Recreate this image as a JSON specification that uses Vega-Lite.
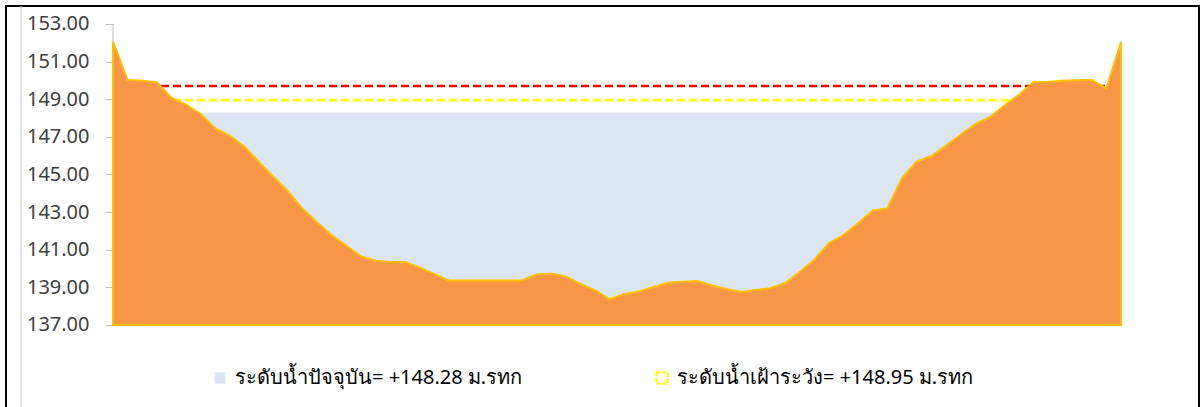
{
  "$schema": "https://vega.github.io/schema/vega-lite/v6.json",
  "autosize": {"type": "none"},
  "width": 1193,
  "height": 402,
  "padding": {"left": 6, "top": 6, "right": 2, "bottom": 0},
  "background": "#ffffff",
  "config": {
    "view": {"stroke": "#000000", "strokeWidth": 2},
    "font": "Noto Sans",
    "axisY": {
      "title": null, "offset": -107, "grid": false, "domain": false, "ticks": true, "tickSize": 8, "tickColor": "#bfbfbf",
      "labelFontSize": 20, "labelColor": "#404040", "labelPadding": 16, "labelFont": "Noto Sans", "format": ".2f"
    }
  },
  "datasets": {
    "terrain": [
      {"station": 0, "elev": 152.06}, {"station": 1, "elev": 150.02}, {"station": 2, "elev": 149.99},
      {"station": 3, "elev": 149.90}, {"station": 4, "elev": 149.07}, {"station": 5, "elev": 148.72},
      {"station": 6, "elev": 148.22}, {"station": 7, "elev": 147.45}, {"station": 8, "elev": 147.05},
      {"station": 9, "elev": 146.48}, {"station": 10, "elev": 145.65}, {"station": 11, "elev": 144.87},
      {"station": 12, "elev": 144.10}, {"station": 13, "elev": 143.15}, {"station": 14, "elev": 142.44},
      {"station": 15, "elev": 141.75}, {"station": 16, "elev": 141.20}, {"station": 17, "elev": 140.64},
      {"station": 18, "elev": 140.42}, {"station": 19, "elev": 140.35}, {"station": 20, "elev": 140.35},
      {"station": 21, "elev": 140.05}, {"station": 22, "elev": 139.70}, {"station": 23, "elev": 139.37},
      {"station": 24, "elev": 139.37}, {"station": 25, "elev": 139.37}, {"station": 26, "elev": 139.37},
      {"station": 27, "elev": 139.37}, {"station": 28, "elev": 139.37}, {"station": 29, "elev": 139.68},
      {"station": 30, "elev": 139.74}, {"station": 31, "elev": 139.57}, {"station": 32, "elev": 139.18},
      {"station": 33, "elev": 138.84}, {"station": 34, "elev": 138.36}, {"station": 35, "elev": 138.65},
      {"station": 36, "elev": 138.78}, {"station": 37, "elev": 139.02}, {"station": 38, "elev": 139.25},
      {"station": 39, "elev": 139.30}, {"station": 40, "elev": 139.34}, {"station": 41, "elev": 139.10},
      {"station": 42, "elev": 138.91}, {"station": 43, "elev": 138.75}, {"station": 44, "elev": 138.86},
      {"station": 45, "elev": 138.95}, {"station": 46, "elev": 139.22}, {"station": 47, "elev": 139.82},
      {"station": 48, "elev": 140.46}, {"station": 49, "elev": 141.34}, {"station": 50, "elev": 141.78},
      {"station": 51, "elev": 142.41}, {"station": 52, "elev": 143.08}, {"station": 53, "elev": 143.20},
      {"station": 54, "elev": 144.80}, {"station": 55, "elev": 145.68}, {"station": 56, "elev": 145.97},
      {"station": 57, "elev": 146.52}, {"station": 58, "elev": 147.10}, {"station": 59, "elev": 147.66},
      {"station": 60, "elev": 148.03}, {"station": 61, "elev": 148.67}, {"station": 62, "elev": 149.23},
      {"station": 63, "elev": 149.90}, {"station": 64, "elev": 149.93}, {"station": 65, "elev": 149.98},
      {"station": 66, "elev": 150.01}, {"station": 67, "elev": 150.02}, {"station": 68, "elev": 149.58},
      {"station": 69, "elev": 152.04}
    ],
    "levels": [
      {"kind": "current", "label": "ระดับน้ำปัจจุบัน= +148.28 ม.รทก", "level": 148.28},
      {"kind": "watch", "label": "ระดับน้ำเฝ้าระวัง= +148.95 ม.รทก", "level": 148.95},
      {"kind": "critical", "label": "critical", "level": 149.70}
    ]
  },
  "layer": [
    {
      "data": {"name": "levels"},
      "transform": [{"filter": "datum.kind === 'current'"}],
      "mark": {"type": "rule", "color": "#c8c8c8", "strokeWidth": 1},
      "encoding": {
        "x": {"datum": -6.3, "type": "quantitative", "scale": {"domain": [-7.3244, 74.3393], "nice": false, "zero": false}, "axis": null}
      }
    },
    {
      "data": {"name": "levels"},
      "transform": [{"filter": "datum.kind === 'current'"}],
      "mark": {"type": "rect"},
      "encoding": {
        "x": {"datum": 0, "type": "quantitative", "scale": {"domain": [-7.3244, 74.3393], "nice": false, "zero": false}, "axis": null},
        "x2": {"datum": 69},
        "y": {"field": "level", "type": "quantitative", "scale": {"domain": [132.588, 153.9568], "nice": false, "zero": false}, "axis": {"values": [137, 139, 141, 143, 145, 147, 149, 151, 153]}},
        "y2": {"datum": 137},
        "fill": {
          "field": "label", "type": "nominal",
          "scale": {"domain": ["ระดับน้ำปัจจุบัน= +148.28 ม.รทก"], "range": ["#dce6f2"]},
          "legend": {
            "title": null, "orient": "none", "legendX": 204, "legendY": 362,
            "symbolType": "square", "symbolSize": 120, "labelFontSize": 20, "labelColor": "#000000",
            "labelOffset": 5, "labelLimit": 600
          }
        }
      }
    },
    {
      "data": {"name": "levels"},
      "transform": [{"filter": "datum.kind === 'critical'"}],
      "mark": {"type": "rule", "color": "#ff0000", "strokeWidth": 2.5, "strokeDash": [8, 4]},
      "encoding": {
        "x": {"datum": 0, "type": "quantitative", "scale": {"domain": [-7.3244, 74.3393], "nice": false, "zero": false}, "axis": null},
        "x2": {"datum": 69},
        "y": {"field": "level", "type": "quantitative", "scale": {"domain": [132.588, 153.9568], "nice": false, "zero": false}, "axis": {"values": [137, 139, 141, 143, 145, 147, 149, 151, 153]}}
      }
    },
    {
      "data": {"name": "levels"},
      "transform": [{"filter": "datum.kind === 'watch'"}],
      "mark": {"type": "rule", "strokeWidth": 2.8, "strokeDash": [8, 4]},
      "encoding": {
        "x": {"datum": 0, "type": "quantitative", "scale": {"domain": [-7.3244, 74.3393], "nice": false, "zero": false}, "axis": null},
        "x2": {"datum": 69},
        "y": {"field": "level", "type": "quantitative", "scale": {"domain": [132.588, 153.9568], "nice": false, "zero": false}, "axis": {"values": [137, 139, 141, 143, 145, 147, 149, 151, 153]}},
        "stroke": {
          "field": "label", "type": "nominal",
          "scale": {"domain": ["ระดับน้ำเฝ้าระวัง= +148.95 ม.รทก"], "range": ["#ffff00"]},
          "legend": {
            "title": null, "orient": "none", "legendX": 646, "legendY": 362,
            "symbolType": "square", "symbolSize": 130, "symbolFillColor": "#ffffff", "symbolStrokeWidth": 2.2,
            "symbolDash": [4, 2], "labelFontSize": 20, "labelColor": "#000000",
            "labelOffset": 5, "labelLimit": 600
          }
        }
      }
    },
    {
      "data": {"name": "levels"},
      "transform": [{"filter": "datum.kind === 'current'"}],
      "mark": {"type": "rule", "color": "#bfbfbf", "strokeWidth": 1},
      "encoding": {
        "x": {"datum": 0, "type": "quantitative", "scale": {"domain": [-7.3244, 74.3393], "nice": false, "zero": false}, "axis": null},
        "y": {"datum": 137, "type": "quantitative", "scale": {"domain": [132.588, 153.9568], "nice": false, "zero": false}, "axis": {"values": [137, 139, 141, 143, 145, 147, 149, 151, 153]}},
        "y2": {"datum": 153}
      }
    },
    {
      "data": {"name": "terrain"},
      "mark": {"type": "area", "color": "#f79646", "stroke": "#ffc000", "strokeWidth": 2, "interpolate": "linear"},
      "encoding": {
        "x": {"field": "station", "type": "quantitative", "scale": {"domain": [-7.3244, 74.3393], "nice": false, "zero": false}, "axis": null},
        "y": {
          "field": "elev", "type": "quantitative",
          "scale": {"domain": [132.588, 153.9568], "nice": false, "zero": false},
          "axis": {"values": [137, 139, 141, 143, 145, 147, 149, 151, 153]}
        },
        "y2": {"datum": 137}
      }
    }
  ]
}
